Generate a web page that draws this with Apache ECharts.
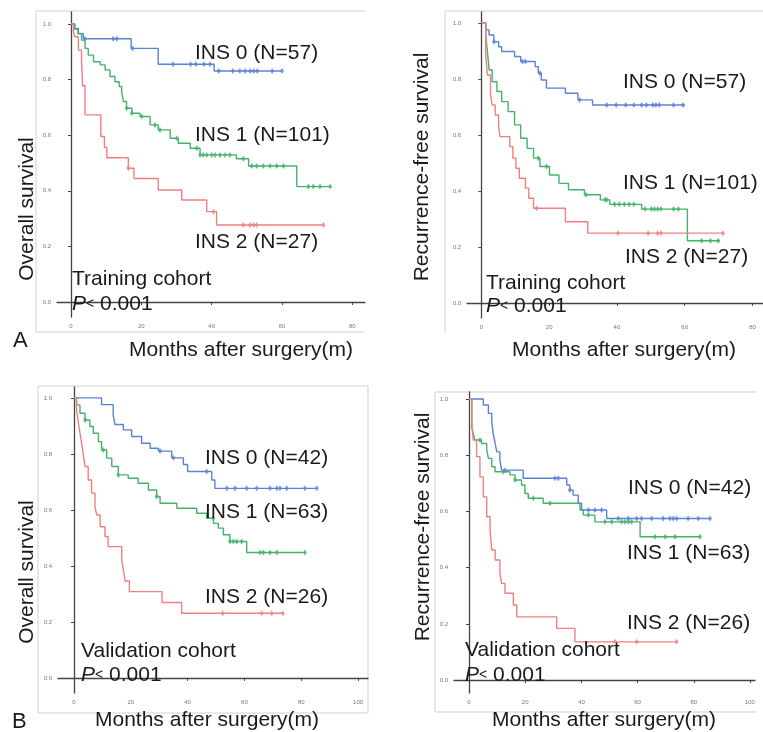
<!DOCTYPE html>
<html>
<head>
<meta charset="utf-8">
<script src="https://cdn.jsdelivr.net/npm/echarts@6/dist/echarts.min.js"></script>
<style>
html, body { margin: 0; padding: 0; background: #fff; }
#chart { width: 763px; height: 732px; }
</style>
</head>
<body>
<div id="chart"></div>
<script>
// Kaplan-Meier steps: [month, survival after the drop]
var osTrain0 = [[0,1],[1,0.982],[2,0.965],[3.5,0.947],[17.1,0.912],[24.8,0.855],[40.7,0.831],[60,0.831]];
var osTrain1 = [[0,1],[1.1,0.984],[2.1,0.966],[3.0,0.942],[4,0.912],[4.9,0.888],[6.4,0.864],[8.3,0.853],[9.7,0.835],[11.1,0.811],[12.5,0.792],[13.7,0.775],[14.4,0.757],[14.9,0.721],[15.8,0.697],[17.3,0.679],[19.6,0.667],[22.5,0.637],[24.8,0.619],[28.2,0.589],[30.5,0.571],[33.9,0.553],[36.7,0.529],[47,0.515],[50.5,0.489],[64.2,0.415],[73.7,0.415]];
var osTrain2 = [[0,1],[0.7,0.973],[1.1,0.954],[2.1,0.906],[3.0,0.870],[3.3,0.778],[4.0,0.673],[8.5,0.595],[9.5,0.556],[10.2,0.519],[16.3,0.481],[17.9,0.444],[24.8,0.403],[31.5,0.367],[38.6,0.325],[41.4,0.277],[71.8,0.277]];
var rfsTrain0 = [[0,1],[1.3,0.975],[2.3,0.957],[3.7,0.933],[5.1,0.915],[6.0,0.898],[9.8,0.880],[11.6,0.862],[15.9,0.844],[16.8,0.820],[17.7,0.796],[19.2,0.767],[24.8,0.749],[28.5,0.725],[32.8,0.707],[60,0.707]];
var rfsTrain1 = [[0,1],[1.3,0.957],[1.8,0.898],[2.3,0.832],[3.2,0.790],[4.6,0.755],[6.0,0.719],[7.9,0.683],[9.8,0.636],[11.6,0.588],[13.5,0.552],[15.4,0.517],[17.3,0.487],[20.1,0.457],[22.9,0.427],[25.7,0.404],[30.4,0.386],[35.1,0.368],[37.9,0.352],[47.3,0.335],[60.8,0.222],[70.3,0.222]];
var rfsTrain2 = [[0,1],[1.3,0.886],[1.8,0.814],[2.7,0.743],[3.2,0.707],[4.1,0.671],[5.1,0.630],[5.5,0.594],[8.4,0.558],[9.3,0.517],[10.2,0.481],[11.2,0.445],[13.0,0.410],[14.0,0.374],[15.4,0.338],[24.8,0.290],[31.4,0.249],[71.3,0.249]];
var osValid0 = [[0,1],[9.7,0.976],[13.8,0.94],[14.4,0.905],[17.4,0.886],[20.3,0.862],[23.8,0.838],[26.8,0.82],[29.7,0.81],[34.4,0.786],[38.5,0.762],[40.0,0.737],[48.5,0.707],[49.6,0.677],[85.5,0.677]];
var osValid1 = [[0,1],[0.9,0.975],[2.1,0.945],[3.9,0.921],[5.6,0.898],[6.8,0.874],[8.6,0.844],[9.7,0.814],[11.5,0.785],[13.3,0.755],[15.6,0.725],[19.1,0.713],[22.6,0.695],[26.2,0.671],[29.1,0.648],[30.3,0.624],[36.2,0.606],[43.2,0.588],[46.7,0.570],[49.1,0.552],[50.8,0.535],[52.6,0.511],[54.9,0.487],[60.8,0.448],[81.3,0.448]];
var osValid2 = [[0,1],[0.9,0.957],[1.5,0.915],[2.1,0.874],[2.7,0.838],[3.3,0.796],[3.9,0.755],[5.0,0.707],[6.2,0.660],[7.4,0.612],[8.0,0.582],[9.2,0.540],[10.9,0.505],[12.0,0.469],[16.8,0.421],[17.4,0.385],[18.0,0.346],[19.5,0.308],[31.0,0.269],[37.9,0.231],[73.5,0.231]];
var rfsValid0 = [[0,1],[5.1,0.979],[6.9,0.949],[8.1,0.919],[8.6,0.878],[9.3,0.842],[9.9,0.812],[11.0,0.783],[11.6,0.747],[19.3,0.718],[34.8,0.694],[35.9,0.676],[37.1,0.658],[38.9,0.629],[40.1,0.605],[49.0,0.575],[85.8,0.575]];
var rfsValid1 = [[0,1],[1.0,0.901],[1.5,0.878],[2.1,0.854],[4.5,0.842],[6.3,0.819],[6.9,0.789],[8.1,0.759],[9.3,0.741],[14.6,0.730],[16.4,0.712],[18.7,0.694],[19.9,0.664],[21.1,0.647],[26.4,0.629],[39.5,0.605],[40.7,0.587],[44.8,0.563],[60.9,0.510],[82.2,0.510]];
var rfsValid2 = [[0,1],[1.0,0.913],[1.5,0.854],[2.7,0.795],[3.9,0.723],[5.1,0.652],[6.3,0.581],[7.5,0.534],[8.1,0.463],[9.3,0.427],[11.0,0.380],[11.6,0.344],[12.8,0.309],[15.8,0.267],[17.0,0.225],[31.2,0.184],[37.7,0.136],[73.9,0.136]];

// censored times (months)
var osTrain0Cens = [4,12,13,17.5,29,34,35.5,37.8,39.5,42,46,48,49.5,51,52,53,57.2,60];
var osTrain1Cens = [15.8,17.3,20.1,23.9,25.3,30.1,35.8,36.7,37.6,38.6,40,41,42.4,43.8,45.2,49,51.4,52.8,54.7,56.6,58.5,60.4,67.5,68.9,70.8,73.7];
var osTrain2Cens = [16.3,40.5,49,50.9,51.9,52.8,71.8];
var rfsTrain0Cens = [3.7,12.1,13,17.3,29,37,39.8,42.6,45,47.3,48.7,50.6,51.5,52.5,56.7,59.5];
var rfsTrain1Cens = [16.8,19.2,30.9,36.5,37,39.3,40.7,42.2,43.6,45,48.3,50.2,51.1,52,53,56.7,58.1,65,67.6,69.9];
var rfsTrain2Cens = [16.3,40.3,49.2,52,53,71.3];
var osValid0Cens = [30.3,35,46.7,53.8,56.7,60.8,64.3,69,71.4,72.5,74.9,81.3,85.5];
var osValid1Cens = [3.9,10.3,15.6,29.1,49,54.9,56.1,57.3,59,65.5,66.7,69,71.4,81.3];
var osValid2Cens = [52.3,66.1,69.6,73.5];
var rfsValid0Cens = [12.8,30.6,31.8,35.9,42.5,44.8,47.2,53.1,56.7,59.7,61.4,65,69.1,71.5,72.7,73.9,78,81.6,85.8];
var rfsValid1Cens = [3.9,12.2,16.4,22.9,28.8,42.5,48.4,50.8,54.3,55.5,56.7,57.9,66.2,69.8,73.3,82.2];
var rfsValid2Cens = [52,59.7,73.9];

var xTicksTrain = [0, 20, 40, 60, 80];
var xTicksValid = [0, 20, 40, 60, 80, 100];
var yTicks = [0, 0.2, 0.4, 0.6, 0.8, 1.0];

var trainLabels = ['INS 0 (N=57)', 'INS 1 (N=101)', 'INS 2 (N=27)'];
var validLabels = ['INS 0 (N=42)', 'INS 1 (N=63)', 'INS 2 (N=26)'];
var cohortNames = ['Training cohort', 'Validation cohort'];
var yTitles = ['Overall survival', 'Recurrence-free survival'];
var xTitle = 'Months after surgery(m)';
var panelLetters = ['A', 'B'];

var colors = ['#5b82d9', '#45b26b', '#f08080'];
var FONT = '"Liberation Sans", Arial, sans-serif';
var INK = '#1a1a1a';

var panels = [
  { grid: {left: 57, top: 12, width: 308, height: 305}, xr: [-3.98, 83.6], yr: [-0.054, 1.043], xt: xTicksTrain,
    curves: [[osTrain0, osTrain0Cens], [osTrain1, osTrain1Cens], [osTrain2, osTrain2Cens]],
    labels: trainLabels, labelPos: [[195, 53], [195, 135], [195, 242]],
    cohort: 0, cohortPos: [72, 279], pPos: [72, 304], xTitlePos: [129, 350], yTitle: 0, yTitlePos: [27, 209],
    frame: [[365, 11], [36, 11], [36, 332], [365, 332]] },
  { grid: {left: 467, top: 12, width: 310, height: 306}, xr: [-4.23, 83.1], yr: [-0.054, 1.039], xt: xTicksTrain,
    curves: [[rfsTrain0, rfsTrain0Cens], [rfsTrain1, rfsTrain1Cens], [rfsTrain2, rfsTrain2Cens]],
    labels: trainLabels, labelPos: [[623, 82], [623, 183], [625, 257]],
    cohort: 0, cohortPos: [486, 283], pPos: [486, 306], xTitlePos: [512, 350], yTitle: 1, yTitlePos: [422, 167],
    frame: [[763, 11], [445, 11], [445, 333]] },
  { grid: {left: 58, top: 387, width: 310, height: 306}, xr: [-5.63, 103.5], yr: [-0.054, 1.039], xt: xTicksValid,
    curves: [[osValid0, osValid0Cens], [osValid1, osValid1Cens], [osValid2, osValid2Cens]],
    labels: validLabels, labelPos: [[205, 458], [205, 512], [205, 597]],
    cohort: 1, cohortPos: [81, 651], pPos: [81, 675], xTitlePos: [95, 720], yTitle: 0, yTitlePos: [27, 572],
    frame: [[368, 386], [38, 386], [38, 713], [368, 713], [368, 386]] },
  { grid: {left: 454, top: 392, width: 301, height: 301}, xr: [-5.34, 101.8], yr: [-0.046, 1.025], xt: xTicksValid,
    curves: [[rfsValid0, rfsValid0Cens], [rfsValid1, rfsValid1Cens], [rfsValid2, rfsValid2Cens]],
    labels: validLabels, labelPos: [[628, 488], [627, 553], [627, 623]],
    cohort: 1, cohortPos: [465, 650], pPos: [465, 675], xTitlePos: [492, 720], yTitle: 1, yTitlePos: [423, 527],
    frame: [[757, 392], [435, 392], [435, 712], [757, 712]] }
];

function survAt(steps, t) {
  var s = steps[0][1];
  for (var i = 0; i < steps.length; i++) {
    if (steps[i][0] <= t) s = steps[i][1];
  }
  return s;
}

function text(x, y, str, size, extra) {
  var el = { type: 'text', x: x, y: y, z: 10, style: { text: str, font: size + 'px ' + FONT, fill: INK, textAlign: 'left', textVerticalAlign: 'middle' } };
  if (extra) { for (var k in extra) el[k] = extra[k]; }
  return el;
}

var grids = [], xAxes = [], yAxes = [], series = [], graphics = [];
var axisCol = '#444';

panels.forEach(function (p, i) {
  grids.push(p.grid);
  xAxes.push({
    type: 'value', gridIndex: i, min: p.xr[0], max: p.xr[1],
    axisLine: { lineStyle: { color: axisCol, width: 1.3 } },
    axisTick: { customValues: p.xt, length: 3, lineStyle: { color: axisCol } },
    axisLabel: { customValues: p.xt, fontSize: 6, color: '#777', margin: 6, fontFamily: FONT },
    splitLine: { show: false }
  });
  yAxes.push({
    type: 'value', gridIndex: i, min: p.yr[0], max: p.yr[1],
    axisLine: { show: true, lineStyle: { color: axisCol, width: 1.3 } },
    axisTick: { show: true, customValues: yTicks, length: 3, lineStyle: { color: axisCol } },
    axisLabel: { customValues: yTicks, fontSize: 6, color: '#777', margin: 6, fontFamily: FONT,
      formatter: function (v) { return v.toFixed(1); } },
    splitLine: { show: false }
  });
  p.curves.forEach(function (c, g) {
    series.push({
      type: 'line', xAxisIndex: i, yAxisIndex: i, step: 'end', data: c[0],
      showSymbol: false, silent: true, lineStyle: { color: colors[g], width: 1.4 }
    });
    series.push({
      type: 'scatter', xAxisIndex: i, yAxisIndex: i, silent: true,
      data: c[1].map(function (t) { return [t, survAt(c[0], t)]; }),
      symbol: 'diamond', symbolSize: [4, 6], itemStyle: { color: colors[g] }
    });
  });

  graphics.push({ type: 'polyline', shape: { points: p.frame }, style: { stroke: '#cfd2d6', fill: null, lineWidth: 1 } });
  p.labels.forEach(function (s, g) {
    graphics.push(text(p.labelPos[g][0], p.labelPos[g][1], s, 21));
  });
  graphics.push(text(p.cohortPos[0], p.cohortPos[1], cohortNames[p.cohort], 21));
  graphics.push({
    type: 'text', x: p.pPos[0], y: p.pPos[1], z: 10,
    style: {
      text: '{i|P}{s|<}{n| 0.001}', textAlign: 'left', textVerticalAlign: 'middle',
      rich: {
        i: { font: 'italic 21px ' + FONT, fill: INK },
        s: { font: '14px ' + FONT, fill: INK },
        n: { font: '21px ' + FONT, fill: INK }
      }
    }
  });
  graphics.push(text(p.xTitlePos[0], p.xTitlePos[1], xTitle, 21));
  graphics.push(text(p.yTitlePos[0], p.yTitlePos[1], yTitles[p.yTitle], 21, { rotation: Math.PI / 2 }));
  graphics[graphics.length - 1].style.textAlign = 'center';
});

graphics.push(text(13, 341, panelLetters[0], 22));
graphics.push(text(12, 722, panelLetters[1], 22));

var chart = echarts.init(document.getElementById('chart'));
chart.setOption({
  animation: false,
  backgroundColor: '#fff',
  grid: grids,
  xAxis: xAxes,
  yAxis: yAxes,
  series: series,
  graphic: graphics
});
</script>
</body>
</html>
